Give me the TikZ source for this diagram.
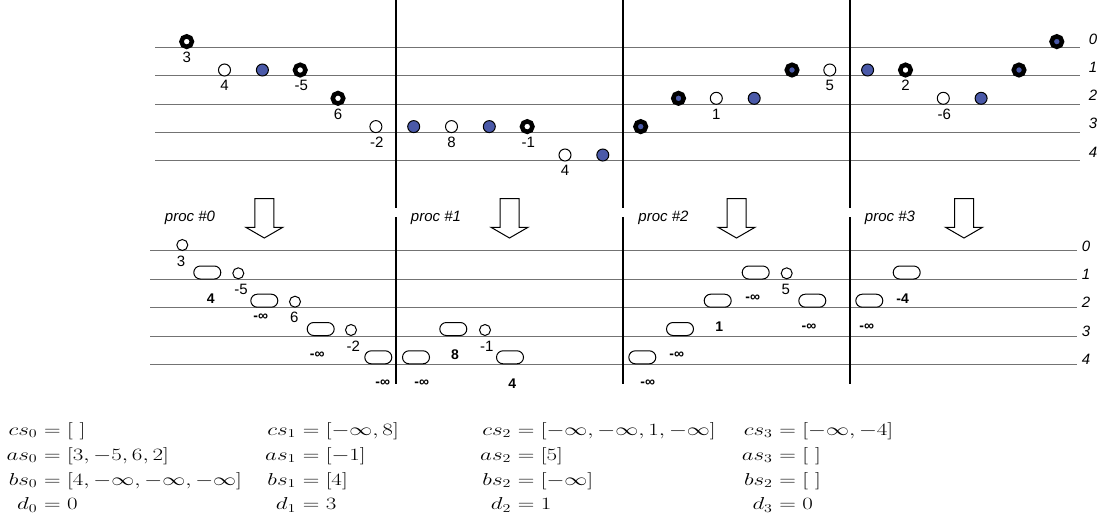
\documentclass[tikz,border=0pt]{standalone}
\usepackage[no-math]{fontspec}
\usepackage{graphicx}
\newfontfamily\lab{Liberation Sans}
\definecolor{procblue}{RGB}{74,89,168}
\newcommand\eqrow[5]{%
  \node[eqn, anchor=base east] (#1l) at (#2-15.4, #3) {\scalebox{1.33}[1]{$#4$}};
  \node[eqn, anchor=base west] (#1r) at (#2-15.4, #3) {\scalebox{1.33}[1]{${}=#5$}};
}
\begin{document}
\begin{tikzpicture}[x=1pt, y=-1pt,
  thinw/.style={circle, draw, line width=1pt, fill=white, minimum size=12pt, inner sep=0pt},
  blu/.style={thinw, fill=procblue},
  thickw/.style={circle, draw, line width=4.5pt, fill=white, minimum size=10.5pt, inner sep=0pt},
  thickb/.style={thickw, fill=procblue},
  smallw/.style={thinw, minimum size=11pt},
  caps/.style={rectangle, rounded corners=6.5pt, draw, line width=1pt, fill=white, minimum width=27pt, minimum height=13pt, inner sep=0pt},
  num/.style={font=\lab\fontsize{15}{18}\selectfont, inner sep=0pt},
  bnum/.style={font=\lab\bfseries\fontsize{14}{17}\selectfont, inner sep=0pt},
  lvl/.style={font=\lab\itshape\fontsize{15}{18}\selectfont, inner sep=0pt},
  proc/.style={font=\lab\itshape\fontsize{15}{18}\selectfont, inner sep=0pt, anchor=base},
  eqn/.style={inner sep=0pt, font=\fontsize{17.28}{21}\selectfont},
  hline/.style={draw=black!55, line width=1pt},
  vline/.style={draw=black, line width=1.3pt},
  blockarrow/.style={draw=black, line width=1pt, fill=white, line join=miter}
]
\useasboundingbox (0,0) rectangle (1101,520);

% ---------- top grid ----------
\foreach \yy in {47.3,75.7,104,132.3,160.7} \draw[hline] (155,\yy) -- (1080,\yy);
\foreach \L/\yy in {0/39.3,1/67.5,2/95.5,3/123.5,4/152} \node[lvl] (tl\L) at (1093,\yy) {\L};

% ---------- bottom grid ----------
\foreach \yy in {250.7,279.3,307.7,336,364.3} \draw[hline] (150,\yy) -- (1077,\yy);
\foreach \L/\yy in {0/246.5,1/274.5,2/302,3/331,4/359.5} \node[lvl] (bl\L) at (1086,\yy) {\L};

% ---------- separators ----------
\foreach \xx in {396,623,850} {
  \draw[vline] (\xx,0) -- (\xx,208);
  \draw[vline] (\xx,217) -- (\xx,384);
}

% ---------- top circles ----------
\node[thickw] (a0)  at (186.7,41.6) {};
\node[thinw]  (a1)  at (224.5,70) {};
\node[blu]    (a2)  at (262.4,70) {};
\node[thickw] (a3)  at (300.2,70) {};
\node[thickw] (a4)  at (338.0,98.3) {};
\node[thinw]  (a5)  at (375.9,126.6) {};
\node[blu]    (a6)  at (413.7,126.6) {};
\node[thinw]  (a7)  at (451.5,126.6) {};
\node[blu]    (a8)  at (489.3,126.6) {};
\node[thickw] (a9)  at (527.2,126.6) {};
\node[thinw]  (a10) at (565.0,155) {};
\node[blu]    (a11) at (602.8,155) {};
\node[thickb] (a12) at (640.7,126.6) {};
\node[thickb] (a13) at (678.5,98.3) {};
\node[thinw]  (a14) at (716.3,98.3) {};
\node[blu]    (a15) at (754.2,98.3) {};
\node[thickb] (a16) at (792.0,70) {};
\node[thinw]  (a17) at (829.8,70) {};
\node[blu]    (a18) at (867.6,70) {};
\node[thickw] (a19) at (905.5,70) {};
\node[thinw]  (a20) at (943.3,98.3) {};
\node[blu]    (a21) at (981.1,98.3) {};
\node[thickb] (a22) at (1019.0,70) {};
\node[thickb] (a23) at (1056.8,41.6) {};

\node[num] (la0)  at ([yshift=-15.7pt]a0.center)  {3};
\node[num] (la1)  at ([yshift=-15.7pt]a1.center)  {4};
\node[num] (la3)  at ([yshift=-15.7pt,xshift=1pt]a3.center)  {-5};
\node[num] (la4)  at ([yshift=-15.7pt]a4.center)  {6};
\node[num] (la5)  at ([yshift=-15.7pt,xshift=1pt]a5.center)  {-2};
\node[num] (la7)  at ([yshift=-15.7pt]a7.center)  {8};
\node[num] (la9)  at ([yshift=-15.7pt,xshift=1pt]a9.center)  {-1};
\node[num] (la10) at ([yshift=-15.7pt]a10.center) {4};
\node[num] (la14) at ([yshift=-15.7pt]a14.center) {1};
\node[num] (la17) at ([yshift=-15.7pt]a17.center) {5};
\node[num] (la19) at ([yshift=-15.7pt]a19.center) {2};
\node[num] (la20) at ([yshift=-15.7pt,xshift=1pt]a20.center) {-6};

% ---------- proc labels and block arrows ----------
\node[proc] (p0) at (190,221.5) {proc \#0};
\node[proc] (p1) at (436,221.5) {proc \#1};
\node[proc] (p2) at (663.5,221.5) {proc \#2};
\node[proc] (p3) at (890,221.5) {proc \#3};
\foreach \c in {264.3,509.5,736.5,964} {
  \draw[blockarrow] (\c-9.5,198.5) -- (\c+9.5,198.5) -- (\c+9.5,227.3) -- (\c+18.5,227.3)
     -- (\c,238) -- (\c-18.5,227.3) -- (\c-9.5,227.3) -- cycle;
}

% ---------- bottom circles ----------
\node[smallw] (b0) at (182.3,245) {};
\node[smallw] (b1) at (238.3,273.3) {};
\node[smallw] (b2) at (295,301.7) {};
\node[smallw] (b3) at (351,330) {};
\node[smallw] (b4) at (485,330) {};
\node[smallw] (b5) at (786.7,273.3) {};
\node[num] (lb0) at (181,261) {3};
\node[num] (lb1) at (241,289) {-5};
\node[num] (lb2) at (294.3,317.7) {6};
\node[num] (lb3) at (353.3,346.7) {-2};
\node[num] (lb4) at (486.7,346.7) {-1};
\node[num] (lb5) at (785.7,289) {5};

% ---------- capsules ----------
\node[caps] (c1)  at (207.3,272.5) {};
\node[caps] (c2)  at (264.3,300.7) {};
\node[caps] (c3)  at (320.7,329) {};
\node[caps] (c4)  at (378.3,357.3) {};
\node[caps] (c5)  at (416,357.3) {};
\node[caps] (c6)  at (453.3,329) {};
\node[caps] (c7)  at (510,357.3) {};
\node[caps] (c8)  at (642.3,357.3) {};
\node[caps] (c9)  at (680,329) {};
\node[caps] (c10) at (717.7,300.7) {};
\node[caps] (c11) at (755.7,272.5) {};
\node[caps] (c12) at (812.3,300.7) {};
\node[caps] (c13) at (869.3,300.7) {};
\node[caps] (c14) at (906.7,272.5) {};

\node[bnum] (lc1)  at (210.7,299) {4};
\node[bnum] (lc2)  at (260.7,317.3) {-∞};
\node[bnum] (lc3)  at (317.3,355) {-∞};
\node[bnum] (lc4)  at (382.7,383.5) {-∞};
\node[bnum] (lc5)  at (421.7,383.5) {-∞};
\node[bnum] (lc6)  at (455,355) {8};
\node[bnum] (lc7)  at (512.3,384) {4};
\node[bnum] (lc8)  at (647.7,383.5) {-∞};
\node[bnum] (lc9)  at (676.7,355) {-∞};
\node[bnum] (lc10) at (719.3,326.7) {1};
\node[bnum] (lc11) at (752.7,298.3) {-∞};
\node[bnum] (lc12) at (809,326.7) {-∞};
\node[bnum] (lc13) at (866.7,326.7) {-∞};
\node[bnum] (lc14) at (902.7,298.3) {-4};

% ---------- equations ----------
\eqrow{cs0}{53}{435}{cs_0}{[\ ]}
\eqrow{as0}{53}{460}{as_0}{[3,-5,6,2]}
\eqrow{bs0}{53}{485}{bs_0}{[4,-\infty,-\infty,-\infty]}
\eqrow{d0}{53}{509.5}{d_0}{0}

\eqrow{cs1}{311.7}{435}{cs_1}{[-\infty,8]}
\eqrow{as1}{311.7}{460}{as_1}{[-1]}
\eqrow{bs1}{311.7}{485}{bs_1}{[4]}
\eqrow{d1}{311.7}{509.5}{d_1}{3}

\eqrow{cs2}{526.7}{435}{cs_2}{[-\infty,-\infty,1,-\infty]}
\eqrow{as2}{526.7}{460}{as_2}{[5]}
\eqrow{bs2}{526.7}{485}{bs_2}{[-\infty]}
\eqrow{d2}{526.7}{509.5}{d_2}{1}

\eqrow{cs3}{788.3}{435}{cs_3}{[-\infty,-4]}
\eqrow{as3}{788.3}{460}{as_3}{[\ ]}
\eqrow{bsx}{788.3}{485}{bs_2}{[\ ]}
\eqrow{d3}{788.3}{509.5}{d_3}{0}
\end{tikzpicture}
\end{document}
